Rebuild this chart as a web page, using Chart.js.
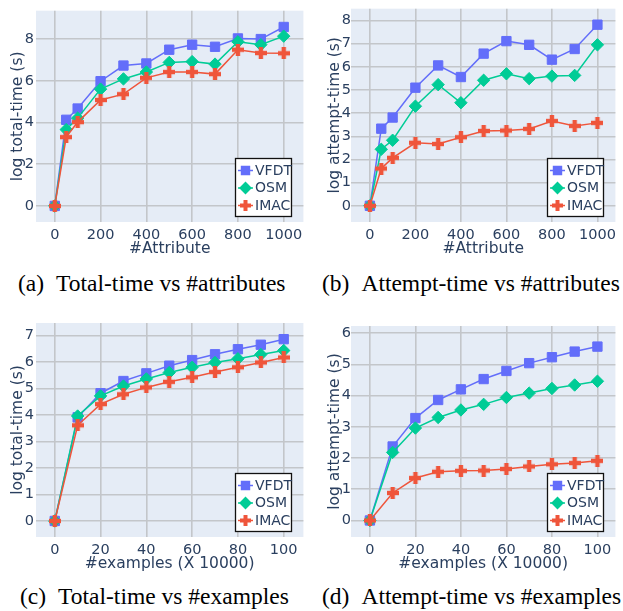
<!DOCTYPE html>
<html><head><meta charset="utf-8">
<script src="https://cdn.jsdelivr.net/npm/chart.js@4/dist/chart.umd.min.js"></script>
<style>
html,body{margin:0;padding:0;background:#fff;width:623px;height:611px;overflow:hidden;position:relative;}
.p{position:absolute;}
.cap{position:absolute;font-family:"Liberation Serif","Times New Roman",serif;font-size:23.5px;line-height:1;color:#000;white-space:nowrap;}
.cap span{margin-left:12px;}
</style></head><body>
<div class="p" style="left:0;top:0;width:311px;height:258px"><canvas id="ca"></canvas></div>
<div class="p" style="left:311px;top:0;width:312px;height:258px"><canvas id="cb"></canvas></div>
<div class="p" style="left:0;top:300px;width:311px;height:273px"><canvas id="cc"></canvas></div>
<div class="p" style="left:311px;top:300px;width:312px;height:273px"><canvas id="cd"></canvas></div>
<div class="cap" style="left:18px;top:272px">(a)<span>Total-time vs #attributes</span></div>
<div class="cap" style="left:322px;top:272px">(b)<span>Attempt-time vs #attributes</span></div>
<div class="cap" style="left:20px;top:585px">(c)<span>Total-time vs #examples</span></div>
<div class="cap" style="left:322px;top:585px">(d)<span>Attempt-time vs #examples</span></div>
<script>
// ---- data ----
const seriesNames = ['VFDT', 'OSM', 'IMAC'];
const attrX = [0, 50, 100, 200, 300, 400, 500, 600, 700, 800, 900, 1000];
const exX = [0, 10, 20, 30, 40, 50, 60, 70, 80, 90, 100];

const totalAttrVFDT = [0, 4.13, 4.67, 5.98, 6.73, 6.83, 7.49, 7.73, 7.63, 8.03, 8.00, 8.58];
const totalAttrOSM  = [0, 3.66, 4.21, 5.60, 6.09, 6.42, 6.88, 6.92, 6.80, 7.87, 7.73, 8.14];
const totalAttrIMAC = [0, 3.30, 4.02, 5.08, 5.36, 6.14, 6.42, 6.42, 6.32, 7.49, 7.33, 7.32];

const attemptAttrVFDT = [0, 3.33, 3.81, 5.10, 6.06, 5.56, 6.57, 7.11, 6.95, 6.31, 6.77, 7.82];
const attemptAttrOSM  = [0, 2.44, 2.83, 4.30, 5.23, 4.45, 5.42, 5.70, 5.49, 5.60, 5.63, 6.95];
const attemptAttrIMAC = [0, 1.61, 2.07, 2.72, 2.67, 2.96, 3.23, 3.25, 3.32, 3.66, 3.45, 3.58];

const totalExVFDT = [0, 3.91, 4.82, 5.28, 5.57, 5.86, 6.07, 6.29, 6.48, 6.65, 6.86];
const totalExOSM  = [0, 3.96, 4.72, 5.09, 5.36, 5.60, 5.80, 5.98, 6.12, 6.28, 6.43];
const totalExIMAC = [0, 3.61, 4.41, 4.78, 5.04, 5.25, 5.42, 5.62, 5.80, 5.98, 6.17];

const attemptExVFDT = [0, 2.37, 3.28, 3.86, 4.20, 4.53, 4.79, 5.04, 5.23, 5.41, 5.57];
const attemptExOSM  = [0, 2.18, 2.96, 3.30, 3.54, 3.72, 3.94, 4.08, 4.23, 4.34, 4.46];
const attemptExIMAC = [0, 0.88, 1.36, 1.56, 1.59, 1.60, 1.65, 1.73, 1.80, 1.84, 1.91];

const attrXTicks = [0, 200, 400, 600, 800, 1000];
const exXTicks = [0, 20, 40, 60, 80, 100];
const totalAttrYTicks = [0, 2, 4, 6, 8];
const attemptAttrYTicks = [0, 1, 2, 3, 4, 5, 6, 7, 8];
const totalExYTicks = [0, 1, 2, 3, 4, 5, 6, 7];
const attemptExYTicks = [0, 1, 2, 3, 4, 5, 6];

const xTitleAttr = '#Attribute';
const xTitleEx = '#examples (X 10000)';
const yTitleTotal = 'log total-time (s)';
const yTitleAttempt = 'log attempt-time (s)';

// ---- styles ----
const colors = ['#636efa', '#00cc96', '#ef553b'];
const TXT = '#2a3f5f';
const FONT = '"DejaVu Sans", Verdana, sans-serif';

function plusMarker(color, size, arm) {
  const c = document.createElement('canvas');
  c.width = size; c.height = size;
  const g = c.getContext('2d');
  g.fillStyle = color;
  const o = (size - arm) / 2;
  g.fillRect(o, 0, arm, size);
  g.fillRect(0, o, size, arm);
  return c;
}
const plusBig = plusMarker(colors[2], 12, 4.4);
const plusSmall = plusMarker(colors[2], 11, 4);

const pStyles = [
  {pointStyle: 'rect', radius: 6.6, borderWidth: 1},
  {pointStyle: 'rectRot', radius: 6.2, borderWidth: 1},
  {pointStyle: plusBig, radius: 6, borderWidth: 0}
];
const legendStyles = [
  {pointStyle: 'rect', radius: 5.6, borderWidth: 1},
  {pointStyle: 'rectRot', radius: 5.4, borderWidth: 1},
  {pointStyle: plusSmall, radius: 5.5, borderWidth: 0}
];

const bgPlugin = {
  id: 'plotBg',
  beforeDraw(chart) {
    const {ctx, chartArea: a} = chart;
    ctx.save();
    ctx.fillStyle = '#e5ecf6';
    ctx.fillRect(a.left, a.top, a.right - a.left, a.bottom - a.top);
    ctx.restore();
  }
};

const boxLegend = {
  id: 'boxLegend',
  afterDatasetsDraw(chart) {
    const {ctx, chartArea: a} = chart;
    const w = 57, h = 59;
    const x = Math.round(a.right - 11 - w), y = Math.round(a.bottom - 5 - h);
    ctx.save();
    ctx.fillStyle = '#fff';
    ctx.fillRect(x, y, w, h);
    ctx.lineWidth = 1.3;
    ctx.strokeStyle = '#111';
    ctx.strokeRect(x + 0.5, y + 0.5, w - 1, h - 1);
    chart.data.datasets.forEach((ds, i) => {
      const cy = y + 12.5 + i * 17.5;
      ctx.strokeStyle = ds.borderColor;
      ctx.lineWidth = 1.5;
      ctx.beginPath();
      ctx.moveTo(x + 3, cy);
      ctx.lineTo(x + 18, cy);
      ctx.stroke();
      ctx.fillStyle = ds.borderColor;
      ctx.strokeStyle = ds.borderColor;
      const ps = legendStyles[i];
      Chart.helpers.drawPoint(ctx, {pointStyle: ps.pointStyle, radius: ps.radius, borderWidth: ps.borderWidth, rotation: 0}, x + 10.5, cy);
      ctx.fillStyle = TXT;
      ctx.font = '14px ' + FONT;
      ctx.textBaseline = 'middle';
      ctx.textAlign = 'left';
      ctx.fillText(ds.label, x + 20, cy + 0.5);
    });
    ctx.restore();
  }
};

function makeChart(id, xVals, ys, xTicks, yTicks, xTitle, yTitle, xr, yr, lay) {
  const datasets = ys.map((arr, i) => ({
    label: seriesNames[i],
    data: arr.map((v, k) => ({x: xVals[k], y: v})),
    borderColor: colors[i],
    backgroundColor: colors[i],
    borderWidth: 1.5,
    pointStyle: pStyles[i].pointStyle,
    pointRadius: pStyles[i].radius,
    pointBorderWidth: pStyles[i].borderWidth,
    pointBackgroundColor: colors[i],
    pointBorderColor: colors[i],
    tension: 0,
    order: 3 - i,
    clip: false
  }));
  const gridOpt = {color: '#c3c6ca', lineWidth: 1.6, drawTicks: false};
  return new Chart(document.getElementById(id), {
    type: 'line',
    data: {datasets},
    options: {
      responsive: true,
      maintainAspectRatio: false,
      animation: false,
      layout: {padding: {top: lay.top, right: lay.right, left: 0, bottom: 0}},
      plugins: {legend: {display: false}, tooltip: {enabled: false}},
      scales: {
        x: {
          type: 'linear', min: xr[0], max: xr[1],
          grid: gridOpt, border: {display: false},
          afterBuildTicks: s => { s.ticks = xTicks.map(v => ({value: v})); },
          afterFit: s => { s.height = 36; },
          ticks: {color: TXT, font: {family: FONT, size: 14.5}, padding: 5, maxRotation: 0, autoSkip: false, callback: v => String(v)},
          title: {display: true, text: xTitle, color: TXT, font: {family: FONT, size: 15.5}, padding: {top: 0, bottom: 0}}
        },
        y: {
          type: 'linear', min: yr[0], max: yr[1],
          grid: gridOpt, border: {display: false},
          afterBuildTicks: s => { s.ticks = yTicks.map(v => ({value: v})); },
          afterFit: s => { s.width = lay.yw; },
          ticks: {color: TXT, font: {family: FONT, size: 14.5}, padding: lay.tp, autoSkip: false, callback: v => String(v)},
          title: {display: true, text: yTitle, color: TXT, font: {family: FONT, size: 15.5}, padding: {top: lay.tt, bottom: 0}}
        }
      }
    },
    plugins: [bgPlugin, boxLegend]
  });
}

makeChart('ca', attrX, [totalAttrVFDT, totalAttrOSM, totalAttrIMAC], attrXTicks, totalAttrYTicks,
  xTitleAttr, yTitleTotal, [-82, 1086], [-0.77, 9.36], {top: 8, right: 4, yw: 36, tp: 2, tt: 9});
makeChart('cb', attrX, [attemptAttrVFDT, attemptAttrOSM, attemptAttrIMAC], attrXTicks, attemptAttrYTicks,
  xTitleAttr, yTitleAttempt, [-83, 1079], [-0.70, 8.51], {top: 8, right: 2, yw: 40, tp: 0, tt: 15});
makeChart('cc', exX, [totalExVFDT, totalExOSM, totalExIMAC], exXTicks, totalExYTicks,
  xTitleEx, yTitleTotal, [-8.2, 108.6], [-0.605, 7.47], {top: 23, right: 4, yw: 36, tp: 2, tt: 9});
makeChart('cd', exX, [attemptExVFDT, attemptExOSM, attemptExIMAC], exXTicks, attemptExYTicks,
  xTitleEx, yTitleAttempt, [-8.3, 107.9], [-0.53, 6.23], {top: 26, right: 2, yw: 40, tp: 0, tt: 15});
</script>
</body></html>
